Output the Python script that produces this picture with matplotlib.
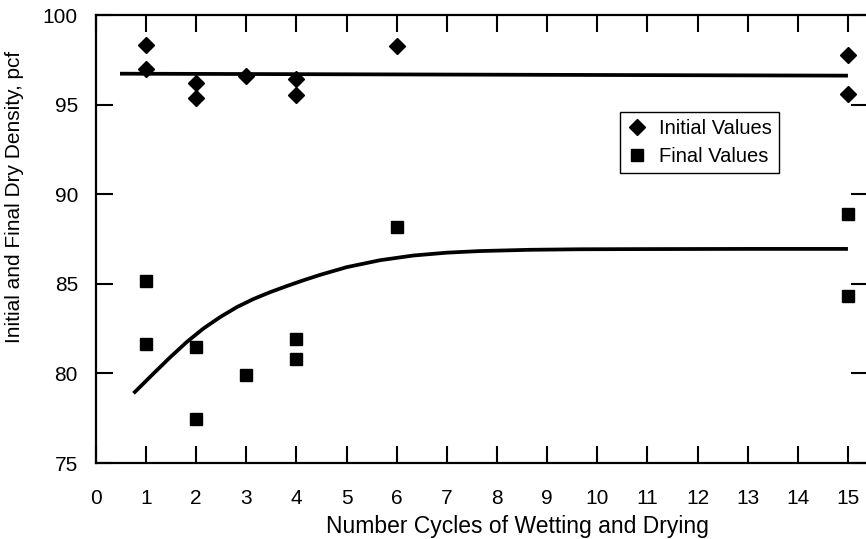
import numpy as np
import matplotlib
matplotlib.use("Agg")
import matplotlib.pyplot as plt

# Scatter data
init_x = [1, 1, 2, 2, 3, 4, 4, 6, 15, 15]
init_y = [98.35, 97.0, 96.2, 95.35, 96.6, 96.45, 95.55, 98.3, 97.75, 95.6]

final_x = [1, 1, 2, 2, 3, 4, 4, 6, 15, 15]
final_y = [85.15, 81.65, 81.5, 77.45, 79.9, 81.9, 80.8, 88.2, 88.9, 84.3]

# Fitted curves as drawn in the figure
init_fit_x = [0.48, 15.0]
init_fit_y = [96.73, 96.62]

final_fit_x = [0.75, 1.15, 1.48, 1.81, 2.14, 2.48, 2.81, 3.14, 3.47, 3.81, 4.14,
               4.47, 5.0, 5.67, 6.33, 7.0, 7.66, 8.66, 9.65, 11.0, 13.0, 15.0]
final_fit_y = [78.89, 80.0, 80.9, 81.75, 82.5, 83.15, 83.7, 84.15, 84.53, 84.88,
               85.2, 85.5, 85.93, 86.32, 86.58, 86.74, 86.83, 86.9, 86.93, 86.94,
               86.95, 86.95]

x_ticks = list(range(0, 16))
y_ticks = [75, 80, 85, 90, 95, 100]

plt.rcParams['font.family'] = ['Liberation Sans', 'DejaVu Sans']

fig = plt.figure(figsize=(8.66, 5.39), dpi=100)
ax = fig.add_axes([0.1108, 0.141, 0.8915, 0.831])

ax.plot(init_fit_x, init_fit_y, color='black', lw=2.7, solid_capstyle='butt')
ax.plot(final_fit_x, final_fit_y, color='black', lw=2.7, solid_capstyle='butt',
        solid_joinstyle='round')
ax.plot(init_x, init_y, 'D', color='black', ms=8, linestyle='none', label='Initial Values')
ax.plot(final_x, final_y, 's', color='black', ms=8.5, linestyle='none', label='Final Values')

ax.set_xlim(0, 15.4)
ax.set_ylim(75, 100)
ax.set_xticks(x_ticks)
ax.set_yticks(y_ticks)
ax.tick_params(axis='both', direction='in', length=12.5, width=1.5,
               top=True, right=True, labelsize=15, colors='black')
ax.tick_params(axis='x', pad=19)
ax.tick_params(axis='y', pad=13)
for s in ax.spines.values():
    s.set_linewidth(1.6)

ax.set_xlabel('Number Cycles of Wetting and Drying', fontsize=16.5)
ax.set_ylabel('Initial and Final Dry Density, pcf', fontsize=15)
ax.xaxis.set_label_coords(0.546, -0.115)
ax.yaxis.set_label_coords(-0.093, 0.594)

leg = ax.legend(loc='upper left', bbox_to_anchor=(0.679, 0.783), fontsize=14.5,
                frameon=True, fancybox=False, edgecolor='black', framealpha=1,
                handletextpad=0.6, handlelength=1.0, borderpad=0.35, labelspacing=0.45,
                borderaxespad=0)
leg.get_frame().set_linewidth(1.0)

fig.savefig('out.png', dpi=100)
